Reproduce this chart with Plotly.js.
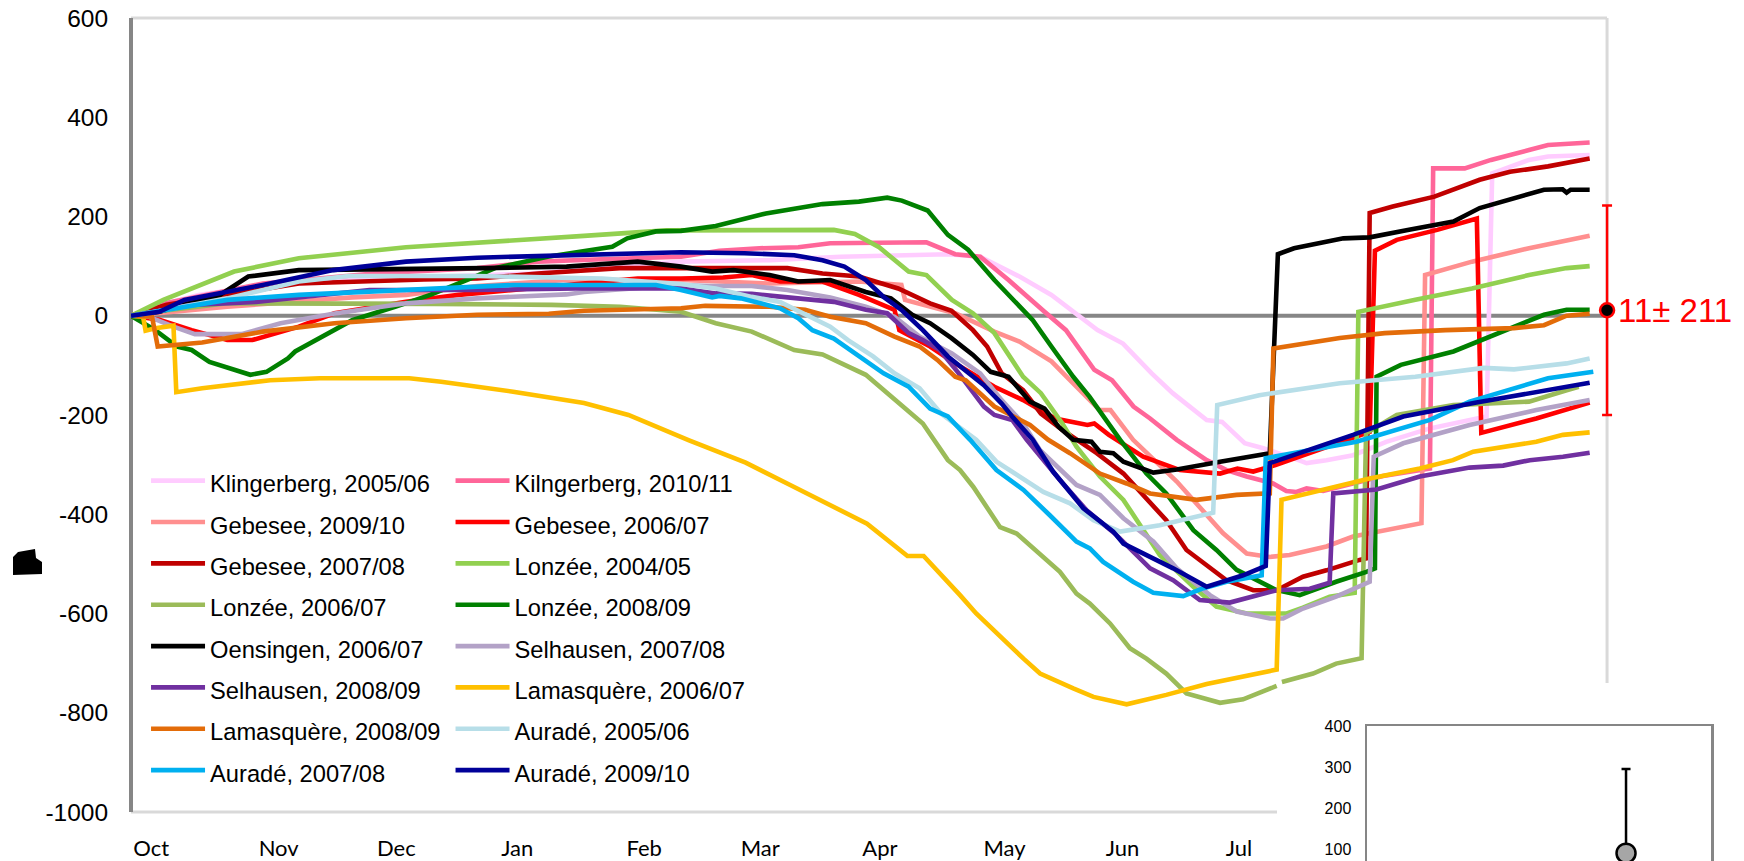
<!DOCTYPE html>
<html><head><meta charset="utf-8">
<script src="https://cdn.plot.ly/plotly-3.0.1.min.js"></script>
<style>html,body{margin:0;padding:0;background:#fff;overflow:hidden}#c{width:1744px;height:861px}</style>
</head><body><div id="c"></div>
<script>
const monthDays=[5,36.5,65.6,95.5,126.9,155.6,185.2,216,245.2,274];
const monthLabels=['Oct','Nov','Dec','Jan','Feb','Mar','Apr','May','Jun','Jul'];
const seriesNames=['Klingerberg, 2005/06','Kilngerberg, 2010/11','Gebesee, 2009/10','Gebesee, 2006/07','Gebesee, 2007/08','Lonzée, 2004/05','Lonzée, 2006/07','Lonzée, 2008/09','Oensingen, 2006/07','Selhausen, 2007/08','Selhausen, 2008/09','Lamasquère, 2006/07','Lamasquère, 2008/09','Auradé, 2005/06','Auradé, 2007/08','Auradé, 2009/10'];
const seriesColors=['#FFCCFF','#FF6699','#FF8F8F','#FF0000','#C00000','#92D050','#9BBB59','#008000','#000000','#B3A2C7','#7030A0','#FFC000','#E36C09','#B7DEE8','#00B0F0','#000099'];

const d0=[0,8.8,16.7,32,60,80,98.8,120.9,136,158,175.5,202,210,219.7,227.6,239,245.3,252.4,257.6,266,269.8,275.4,280,287.4,290.7,295.6,302.2,310.4,321.2,335.2,336.6,345.7,350.4,360.7];
const v0=[0,25,42,60,75,80,85,99,109,112,119,124,119,79,42,-29,-56,-116,-156,-210,-214,-257,-267,-287,-297,-291,-281,-254,-227,-203,287,314,321,324];
const d1=[0,8.8,32.6,60,85.6,100.6,116.5,136,145.5,155.4,165,172.9,196.7,203.8,210,217,225.9,231.2,238.2,242.6,247.9,252,258.6,266,270.9,275.9,282.4,285.7,288.2,290.7,294.8,309.6,321.2,322,329.8,336.3,345.7,350.4,360.7];
const v1=[0,26,65,85,96,109,114,119,131,136,138,146,148,124,119,72,8,-29,-109,-130,-183,-207,-250,-291,-311,-324,-338,-353,-355,-348,-353,-323,-308,297,297,314,334,344,349];
const d2=[0,23.8,54.7,68,85.6,107.7,136,157.9,180,190.5,191.4,203.8,213.5,219.7,227.6,232.9,239.5,242.2,247.8,258.6,270,275.9,281.6,286.5,295.6,302.2,308.8,319.1,320,331.6,345.7,360.7];
const v2=[0,18,37,42,60,72,72,65,69,62,32,5,-32,-52,-92,-136,-190,-190,-250,-334,-438,-479,-486,-482,-465,-445,-435,-418,82,109,136,161];
const d3=[0,7,15,23.8,30,41.5,50.3,68,81,98.8,125.3,136,146.4,153.5,160.5,171,180,188.8,190,197.6,203.8,213.5,220.6,228.5,236.5,238.2,241.8,250.3,259.4,269.3,273.6,277.5,283,306.3,307.6,313,323,332.8,333.9,347.5,360.7];
const v3=[0,-8,-29,-49,-49,-22,5,28,42,55,75,75,77,82,69,69,42,12,-29,-62,-96,-143,-170,-207,-220,-217,-240,-284,-311,-318,-308,-314,-301,-234,131,153,173,196,-236,-207,-175];
const d4=[0,8.8,23.8,41.5,72.4,85.6,100.6,120.9,136,162.3,171,180,189.7,197.6,202.9,208.2,211.7,215.3,220.6,225,230.3,238.8,245.4,252,256,261,270.9,277.5,283.3,289.8,295.6,303.8,305.4,306.3,312,322.3,333.5,341,350.4,360.7];
const v4=[0,22,42,65,73,75,85,96,96,96,85,79,55,25,10,-29,-62,-116,-150,-197,-230,-277,-318,-378,-412,-472,-533,-553,-553,-526,-513,-492,-489,207,220,240,274,290,301,317];
const d5=[0,8,25.5,41.5,68,94.4,112,132.4,153.5,159.6,173.8,179,185,192.3,196.7,203,208.2,213.5,220.6,225,230.3,233.8,239.6,245.4,249.5,254.4,262.7,268.4,275.9,285.8,289.8,296.4,302.6,303.5,317.6,331.6,345.7,355,360.7];
const v5=[0,32,89,116,138,153,161,172,173,174,173,165,138,89,82,32,5,-35,-123,-156,-217,-264,-324,-371,-422,-482,-546,-586,-600,-600,-588,-566,-558,8,32,55,82,96,100];
const d6=[0,6,23.8,41.5,75,104,121,136,144.6,153.5,164,171,181.7,189,195.8,202,205,208.3,214.9,219,224.8,229.7,233.8,237.1,242.1,247,251.1,256,261,269.3,275,283.3,283.4,284.6,292.3,298,304.3,305.4,313,327,336,345.7,355,358];
const v6=[0,8,25,25,24,22,18,8,-15,-32,-69,-78,-119,-170,-217,-291,-311,-345,-426,-439,-482,-516,-560,-580,-620,-670,-691,-721,-761,-780,-773,-746,null,-738,-721,-701,-690,-237,-200,-180,-177,-173,-150,-143];
const d7=[0,6,11.4,15,19.4,25.5,29.5,33.5,38.8,40.6,45,50.3,54.7,65.3,74,83,90,103,119,122.7,129.8,136,144.6,157,171,180,187,190.6,197,202,207,213.5,219.7,223,227.6,233,237,244.6,251.1,256,262.7,268.4,273.4,283.3,289,298,305.5,307.6,308,314,327,336,345.7,349.4,355,360.7];
const v7=[0,-29,-62,-69,-93,-109,-119,-113,-86,-72,-52,-29,-9,18,42,72,96,119,139,156,170,171,181,206,225,230,238,232,212,163,133,72,18,-9,-62,-123,-163,-250,-318,-358,-432,-472,-512,-553,-563,-536,-516,-509,-123,-99,-72,-42,-12,2,12,12];
const d8=[0,7,22,29,41.5,76.8,87.4,107.7,125.3,136,143.7,149,157.9,165,172.9,181.7,187.9,193.2,197.6,202.9,208.2,212.6,217,222.3,225.9,229.4,233,237.5,239.6,242.9,245.4,252.8,258.6,269.3,281.6,283.6,287.6,299.8,306.3,315.7,327,333.5,349.4,354,355,356,360.7];
const v8=[0,8,42,79,92,94,96,99,109,99,89,92,82,69,72,48,35,2,-15,-45,-79,-113,-123,-173,-187,-224,-250,-254,-274,-277,-294,-316,-310,-294,-277,124,136,156,158,173,190,217,254,255,248,254,254];
const d9=[0,4.4,10.5,15.8,27.3,37,50,68,85.6,107.7,112,136,142.9,153.5,162.3,172.9,181.7,188.8,195,203,210,215.3,220.6,224.8,233.8,239.6,245.4,252.8,258.6,266.8,273.4,281.6,284.9,289.8,298,306.3,307.3,314.6,331,347.5,360.7];
const v9=[0,-2,-22,-37,-37,-15,4,25,35,43,48,62,60,60,52,37,18,-2,-42,-76,-116,-170,-217,-271,-341,-361,-408,-455,-509,-563,-596,-610,-610,-590,-566,-536,-284,-257,-220,-190,-170];
const d10=[0,15,30.9,45.9,59,85,110,136,144.6,153.5,162.3,173.8,181.7,187,192.3,195.8,200,204.7,210.9,213.5,217.9,221.5,229.7,236.3,243.7,252,257.7,264.3,271.7,283.3,291.5,296.4,297.3,308,318.7,331,339.3,345.9,354.1,360.7];
const v10=[0,22,28,42,52,52,55,55,45,44,38,28,12,5,-35,-49,-69,-116,-183,-200,-210,-250,-331,-392,-442,-509,-533,-573,-578,-553,-550,-538,-358,-350,-324,-306,-302,-291,-284,-276];
const d11=[0,3,3.6,6,10.5,11.2,17.6,34.4,46.7,68.8,76.7,94.5,112,123,138,152,163,174,182,192,196,205,209,220.7,224.8,233,238,246.2,256,266,283.3,284.5,306.3,318.7,326.9,331.9,347.5,354.1,360.7];
const v11=[0,-2,-30,-25,-20,-154,-146,-130,-126,-126,-133,-153,-176,-200,-251,-296,-341,-386,-419,-484,-484,-563,-600,-691,-721,-751,-768,-783,-764,-742,-713,-371,-328,-308,-291,-274,-254,-240,-235];
const d12=[0,5.2,6.6,10.5,17.6,32.6,50.3,68,85.6,103.3,112,136,142,157.9,166.7,172.9,181.7,188.8,195,199.4,203.8,206.4,213.5,222.3,226.8,232.2,239.6,246.2,252,263.5,273.4,281.6,282.5,298.9,310,325,342,349.4,355,360.7];
const v12=[0,-2,-62,-59,-54,-32,-15,-5,2,4,10,15,20,18,12,-2,-15,-42,-62,-89,-123,-130,-183,-220,-250,-277,-318,-338,-358,-371,-361,-358,-66,-45,-35,-29,-25,-19,0,4];
const d13=[0,6,23.8,41.5,53.8,85.6,116.5,136,144.6,153.5,160.5,166.7,172.9,177.3,183.5,188.8,195,200.3,209,214,225.6,232.2,238,244.6,254.4,267.6,268.6,279,298.9,317.6,334.5,342,355,360.7];
const v13=[0,8,35,69,80,80,75,64,55,38,28,2,-22,-49,-82,-116,-146,-197,-250,-294,-355,-378,-412,-435,-422,-397,-180,-160,-136,-123,-105,-108,-96,-86];
const d14=[0,6,23.8,41.5,68,94.4,129.8,136,143.7,145.5,150.8,160.5,165,168.5,173.8,180,186.1,192.3,197.6,202,207.5,214,220.7,227.2,233.8,237.1,240.4,247.8,252.8,260.2,265.2,270.9,279.6,280.6,303,321.2,331,350.4,361.6];
const v14=[0,8,32,42,52,62,62,52,37,40,35,15,-5,-29,-46,-82,-116,-143,-187,-203,-250,-311,-351,-402,-455,-469,-496,-536,-558,-565,-549,-536,-523,-287,-254,-210,-173,-126,-113];
const d15=[0,7,13.2,32.6,50,68,85.6,107.7,136,151.7,164,171,176.4,181.7,186.1,190.5,195.8,202,210.9,215.3,217.9,223,228,235.5,242.9,245.4,253.6,257.7,266,275,280.6,281.6,302.2,314.6,332.7,345.7,360.7];
const v15=[0,8,32,62,92,109,117,122,128,126,122,112,99,72,38,12,-29,-82,-140,-177,-203,-250,-314,-388,-435,-459,-492,-509,-546,-523,-504,-297,-240,-203,-175,-156,-135];
const allDays=[d0,d1,d2,d3,d4,d5,d6,d7,d8,d9,d10,d11,d12,d13,d14,d15];
const allVals=[v0,v1,v2,v3,v4,v5,v6,v7,v8,v9,v10,v11,v12,v13,v14,v15];

const endDay=[365], endMean=[11], endSd=[211];
const insetX=[0.753], insetMean=[90], insetSd=[205];
const insetTicks=[100,200,300,400];
const yTicks=[-1000,-800,-600,-400,-200,0,200,400,600];
const yLabels=['-1000','-800','-600','-400','-200','0','200','400','600'];

const W=1744,H=861,ML=131;
const px=p=>(p-ML)/(W-ML), py=p=>(H-p)/H;
const font='"Liberation Sans",Arial,sans-serif';

const traces=seriesNames.map((n,i)=>({
  x:allDays[i],y:allVals[i],name:`<span style="font-size:23.7px">${n}</span>`,type:'scatter',mode:'lines',
  line:{color:seriesColors[i],width:4.6},connectgaps:false,hoverinfo:'skip',cliponaxis:false}));
traces.push({x:endDay,y:endMean,type:'scatter',mode:'markers',showlegend:false,cliponaxis:false,hoverinfo:'skip',
  marker:{color:'#000',size:14,line:{color:'#FF0000',width:2.5}},
  error_y:{type:'data',array:endSd,color:'#FF0000',thickness:2.5,width:5}});
traces.push({x:insetX,y:insetMean,xaxis:'x2',yaxis:'y2',type:'scatter',mode:'markers',showlegend:false,cliponaxis:false,hoverinfo:'skip',
  marker:{color:'#A6A6A6',size:19,line:{color:'#000',width:2.5}},
  error_y:{type:'data',array:insetSd,arrayminus:[0],color:'#000',thickness:2.5,width:4.5}});

const gridGray='#D9D9D9', axisGray='#868686';
const layout={
  width:W,height:H,paper_bgcolor:'#fff',plot_bgcolor:'rgba(0,0,0,0)',
  margin:{l:ML,r:0,t:0,b:0,autoexpand:false},
  font:{family:font,color:'#000'},
  xaxis:{domain:[px(131),px(131+370*4.044)],range:[0,370],tickmode:'array',tickvals:monthDays,ticktext:monthLabels,
    tickfont:{family:'Lato,sans-serif',size:22,color:'#000'},ticks:'outside',ticklen:17,tickcolor:'rgba(0,0,0,0)',
    showgrid:false,zeroline:false,showline:false,anchor:'y'},
  yaxis:{domain:[py(812),py(18)],range:[-1000,600],tickmode:'array',tickvals:yTicks,ticktext:yLabels,
    tickfont:{family:font,size:24.5,color:'#000'},ticks:'outside',ticklen:17,tickcolor:'rgba(0,0,0,0)',
    showgrid:false,zeroline:false,showline:false,anchor:'x'},
  xaxis2:{domain:[px(1367),px(1711)],range:[0,1],anchor:'y2',side:'top',showticklabels:false,ticks:'',showgrid:false,zeroline:false,
    showline:true,linecolor:axisGray,linewidth:2.5},
  yaxis2:{domain:[0,py(726)],range:[71,400],anchor:'x2',tickmode:'array',tickvals:insetTicks,
    tickfont:{family:font,size:16,color:'#000'},ticks:'outside',ticklen:10,tickcolor:'rgba(0,0,0,0)',
    showgrid:false,zeroline:false,showline:true,mirror:true,linecolor:axisGray,linewidth:2.5},
  legend:{orientation:'h',xref:'paper',yref:'paper',x:-0.0006,xanchor:'left',y:py(455),yanchor:'top',
    bgcolor:'rgba(0,0,0,0)',borderwidth:0,itemwidth:54,indentation:16,entrywidth:219.5,entrywidthmode:'pixels',
    font:{family:font,size:29.5,color:'#000'},itemclick:false,itemdoubleclick:false},
  shapes:[
    {type:'line',xref:'paper',yref:'paper',x0:px(131),x1:px(1607),y0:py(18),y1:py(18),layer:'below',line:{color:gridGray,width:3}},
    {type:'line',xref:'x',yref:'paper',x0:365,x1:365,y0:py(18),y1:py(683),layer:'below',line:{color:gridGray,width:3}},
    {type:'line',xref:'paper',yref:'paper',x0:px(131),x1:px(1277),y0:py(812),y1:py(812),layer:'below',line:{color:gridGray,width:3}},
    {type:'line',xref:'x',yref:'y',x0:0,x1:365,y0:0,y1:0,layer:'below',line:{color:axisGray,width:4}},
    {type:'line',xref:'paper',yref:'paper',x0:px(131),x1:px(131),y0:py(812),y1:py(18),layer:'below',line:{color:axisGray,width:4}},
    {type:'path',xref:'paper',yref:'paper',fillcolor:'#000',line:{width:0},
     path:`M${px(13)},${py(575)} L${px(13)},${py(557)} L${px(18)},${py(552)} L${px(35)},${py(549)} L${px(36)},${py(558)} L${px(42)},${py(562)} L${px(42)},${py(574)} Z`}
  ],
  annotations:[{text:'11± 211',xref:'paper',yref:'paper',x:px(1675),y:py(310),xanchor:'center',yanchor:'middle',showarrow:false,
    font:{family:font,size:33,color:'#FF0000'}}]
};
Plotly.newPlot('c',traces,layout,{staticPlot:true,displayModeBar:false}).then(()=>{
  const box=document.querySelector('.legend .scrollbox');
  if(box) box.removeAttribute('clip-path');
});
</script></body></html>
